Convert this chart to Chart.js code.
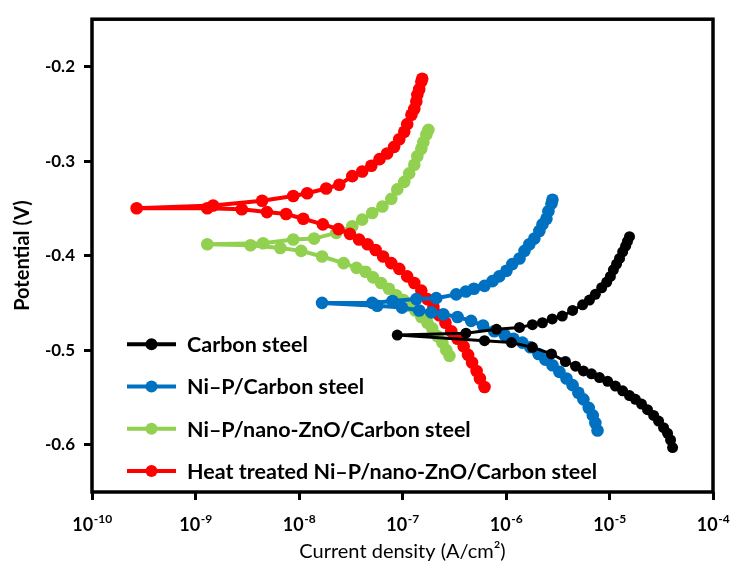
<!DOCTYPE html>
<html>
<head>
<meta charset="utf-8">
<script src="https://cdn.jsdelivr.net/npm/chart.js@4/dist/chart.umd.min.js"></script>
<style>
  html, body { margin: 0; padding: 0; background: #fff; }
  #wrap { width: 733px; height: 565px; }
</style>
</head>
<body>
<div id="wrap"><canvas id="tafel" width="733" height="565"></canvas></div>
<script>
// series names (legend order)
const seriesNames = [
  'Carbon steel',
  'Ni\u2013P/Carbon steel',
  'Ni\u2013P/nano-ZnO/Carbon steel',
  'Heat treated Ni\u2013P/nano-ZnO/Carbon steel'
];
const seriesColors = ['#000000', '#0070C0', '#92D050', '#FF0000'];

// current density (A/cm2) and potential (V), cathodic branch -> Ecorr -> anodic branch
const carbonI = [4.07e-5, 3.89e-5, 3.64e-5, 3.33e-5, 2.98e-5, 2.67e-5, 2.33e-5, 2.04e-5, 1.78e-5, 1.56e-5,
  1.34e-5, 1.14e-5, 9.6e-6, 8.0e-6, 6.7e-6, 5.6e-6, 4.7e-6, 3.75e-6, 2.75e-6, 1.8e-6, 1.13e-6, 6.2e-7,
  8.9e-8,
  4.1e-7, 8.1e-7, 1.35e-6, 1.8e-6, 2.25e-6, 2.8e-6, 3.5e-6, 4.4e-6, 5.5e-6, 6.4e-6, 7.3e-6, 8.4e-6,
  9.4e-6, 1.02e-5, 1.09e-5, 1.17e-5, 1.25e-5, 1.34e-5, 1.43e-5, 1.49e-5, 1.56e-5];
const carbonE = [-0.603, -0.595, -0.588, -0.582, -0.575, -0.569, -0.563, -0.557, -0.552, -0.548,
  -0.543, -0.538, -0.533, -0.529, -0.525, -0.522, -0.517, -0.512, -0.504, -0.497, -0.492, -0.490,
  -0.484,
  -0.482, -0.478, -0.476, -0.473, -0.471, -0.467, -0.464, -0.458, -0.452, -0.447, -0.441, -0.434,
  -0.428, -0.422, -0.415, -0.409, -0.403, -0.396, -0.390, -0.385, -0.380];

const nipI = [7.66e-6, 7.3e-6, 6.9e-6, 6.3e-6, 5.6e-6, 5.0e-6, 4.4e-6, 3.84e-6, 3.28e-6, 2.81e-6,
  2.4e-6, 2.06e-6, 1.72e-6, 1.44e-6, 1.18e-6, 9.7e-7, 7.7e-7, 6.0e-7, 4.6e-7, 3.4e-7, 2.48e-7,
  1.9e-7, 1.45e-7, 9.9e-8, 5.7e-8,
  1.67e-8,
  5.1e-8, 8.0e-8, 1.36e-7, 2.12e-7, 3.3e-7, 4.1e-7, 4.9e-7, 6.2e-7, 7.4e-7, 8.6e-7, 1.01e-6,
  1.15e-6, 1.35e-6, 1.51e-6, 1.68e-6, 1.88e-6, 2.1e-6, 2.25e-6, 2.46e-6, 2.57e-6, 2.75e-6, 2.81e-6];
const nipE = [-0.585, -0.577, -0.569, -0.561, -0.552, -0.545, -0.537, -0.530, -0.523, -0.516,
  -0.510, -0.504, -0.497, -0.492, -0.488, -0.484, -0.480, -0.474, -0.469, -0.465, -0.462,
  -0.460, -0.458, -0.455, -0.453,
  -0.450,
  -0.450, -0.448, -0.446, -0.445, -0.441, -0.438, -0.435, -0.432, -0.427, -0.422, -0.416,
  -0.409, -0.403, -0.395, -0.388, -0.382, -0.374, -0.367, -0.361, -0.353, -0.345, -0.341];

const znoI = [2.84e-7, 2.65e-7, 2.43e-7, 2.17e-7, 1.94e-7, 1.74e-7, 1.52e-7, 1.33e-7, 1.16e-7, 1.02e-7,
  8.7e-8, 7.4e-8, 6.2e-8, 5.2e-8, 4.4e-8, 3.6e-8, 2.7e-8, 1.67e-8, 1.05e-8, 6.6e-9, 3.4e-9,
  1.3e-9,
  4.5e-9, 8.8e-9, 1.4e-8, 2.29e-8, 3.27e-8, 4.08e-8, 5.1e-8, 6.4e-8, 7.8e-8, 8.9e-8, 1.04e-7,
  1.16e-7, 1.3e-7, 1.39e-7, 1.52e-7, 1.59e-7, 1.7e-7, 1.78e-7];
const znoE = [-0.506, -0.500, -0.492, -0.485, -0.477, -0.471, -0.465, -0.458, -0.453, -0.447,
  -0.442, -0.435, -0.429, -0.423, -0.417, -0.413, -0.408, -0.401, -0.395, -0.392, -0.389,
  -0.388,
  -0.387, -0.383, -0.382, -0.376, -0.369, -0.362, -0.355, -0.348, -0.340, -0.330, -0.322,
  -0.313, -0.304, -0.295, -0.287, -0.280, -0.272, -0.267];

const heatI = [6.2e-7, 5.6e-7, 5.2e-7, 4.7e-7, 4.3e-7, 3.9e-7, 3.4e-7, 2.96e-7, 2.6e-7, 2.27e-7,
  1.99e-7, 1.74e-7, 1.52e-7, 1.3e-7, 1.11e-7, 9.3e-8, 7.8e-8, 6.5e-8, 5.5e-8, 4.6e-8, 3.8e-8,
  3.1e-8, 2.4e-8, 1.7e-8, 1.1e-8, 7.5e-9, 4.9e-9, 2.8e-9, 1.3e-9,
  2.7e-10,
  1.48e-9, 4.4e-9, 8.8e-9, 1.2e-8, 1.83e-8, 2.45e-8, 3.27e-8, 4.08e-8, 5.0e-8, 6.0e-8, 7.1e-8,
  8.3e-8, 9.3e-8, 1.04e-7, 1.11e-7, 1.22e-7, 1.3e-7, 1.36e-7, 1.39e-7, 1.45e-7, 1.52e-7, 1.55e-7];
const heatE = [-0.539, -0.530, -0.522, -0.513, -0.505, -0.496, -0.488, -0.480, -0.471, -0.463,
  -0.454, -0.446, -0.437, -0.429, -0.422, -0.414, -0.408, -0.401, -0.394, -0.388, -0.383,
  -0.377, -0.372, -0.367, -0.361, -0.356, -0.354, -0.351, -0.350,
  -0.350,
  -0.347, -0.342, -0.337, -0.334, -0.329, -0.325, -0.316, -0.311, -0.305, -0.298, -0.292,
  -0.285, -0.277, -0.269, -0.261, -0.251, -0.245, -0.237, -0.230, -0.224, -0.216, -0.213];

// axis ticks
const xTickExps = [-10, -9, -8, -7, -6, -5, -4];
const yTicks = [-0.2, -0.3, -0.4, -0.5, -0.6];

const FONT = 'Lato, "Open Sans", sans-serif';

function toPoints(xs, ys) {
  return xs.map((x, i) => ({ x: x, y: ys[i] }));
}

const currents = [carbonI, nipI, znoI, heatI];
const potentials = [carbonE, nipE, znoE, heatE];
const drawOrder = [0, 1, 3, 2]; // black on top, green at the back

const datasets = seriesNames.map((name, i) => ({
  label: name,
  data: toPoints(currents[i], potentials[i]),
  showLine: true,
  borderColor: seriesColors[i],
  backgroundColor: seriesColors[i],
  borderWidth: i === 0 ? 3 : 4,
  pointRadius: i === 0 ? 5.5 : 6.3,
  pointBorderWidth: 0,
  tension: 0,
  order: drawOrder[i],
}));

// frame, x tick labels (10 with raised exponent) and the in-plot legend
const decorPlugin = {
  id: 'decor',
  afterDraw(chart) {
    const { ctx, chartArea: a } = chart;
    ctx.save();
    ctx.strokeStyle = '#000';
    ctx.lineWidth = 3.5;
    ctx.strokeRect(a.left, a.top, a.right - a.left, a.bottom - a.top);

    // x tick labels
    const xs = chart.scales.x;
    ctx.fillStyle = '#000';
    ctx.textBaseline = 'alphabetic';
    xTickExps.forEach((e) => {
      const px = xs.getPixelForValue(Math.pow(10, e));
      const base = '10';
      const exp = String(e);
      ctx.font = 'bold 18px ' + FONT;
      const wb = ctx.measureText(base).width;
      ctx.font = 'bold 12px ' + FONT;
      const we = ctx.measureText(exp).width;
      const x0 = px - (wb + we) / 2;
      ctx.textAlign = 'left';
      ctx.font = 'bold 18px ' + FONT;
      ctx.fillText(base, x0, a.bottom + 39);
      ctx.font = 'bold 12px ' + FONT;
      ctx.fillText(exp, x0 + wb + 0.5, a.bottom + 31);
    });

    // legend
    const lx = a.left + 35;
    let ly = a.top + 325;
    chart.data.datasets.forEach((ds) => {
      ctx.strokeStyle = ds.borderColor;
      ctx.fillStyle = ds.borderColor;
      ctx.lineWidth = 4;
      ctx.beginPath();
      ctx.moveTo(lx, ly);
      ctx.lineTo(lx + 49, ly);
      ctx.stroke();
      ctx.beginPath();
      ctx.arc(lx + 24.5, ly, 6, 0, Math.PI * 2);
      ctx.fill();
      ctx.fillStyle = '#000';
      ctx.font = 'bold 21.5px ' + FONT;
      ctx.textAlign = 'left';
      ctx.textBaseline = 'middle';
      ctx.fillText(ds.label, lx + 60, ly + 1);
      ly += 42.3;
    });
    ctx.restore();
  }
};

new Chart(document.getElementById('tafel'), {
  type: 'scatter',
  data: { datasets: datasets },
  options: {
    responsive: false,
    animation: false,
    layout: { padding: { top: 18, right: 20, left: 0, bottom: 0 } },
    plugins: {
      legend: { display: false },
      tooltip: { enabled: false },
    },
    scales: {
      x: {
        type: 'logarithmic',
        min: 1e-10,
        max: 1e-4,
        border: { display: false },
        grid: { drawOnChartArea: false, drawTicks: true, tickLength: 8, color: '#000', lineWidth: 3 },
        ticks: { display: false },
        afterBuildTicks: (s) => { s.ticks = xTickExps.map((e) => ({ value: Math.pow(10, e) })); },
        afterFit: (s) => { s.height = 73; },
        title: {
          display: true,
          text: 'Current density (A/cm\u00B2)',
          color: '#000',
          font: { family: FONT, size: 20, weight: 'normal' },
          padding: { top: 0, bottom: 1 },
        },
      },
      y: {
        min: -0.65,
        max: -0.15,
        border: { display: false },
        grid: { drawOnChartArea: false, drawTicks: true, tickLength: 8, color: '#000', lineWidth: 3 },
        ticks: {
          color: '#000',
          padding: 9,
          font: { family: FONT, size: 17, weight: 'bold' },
          callback: (v) => Number(v).toFixed(1),
        },
        afterBuildTicks: (s) => { s.ticks = yTicks.map((v) => ({ value: v })); },
        afterFit: (s) => { s.width = 92; },
        title: {
          display: true,
          text: 'Potential (V)',
          color: '#000',
          font: { family: FONT, size: 20, weight: 'bold' },
          padding: { top: 11, bottom: 0 },
        },
      },
    },
  },
  plugins: [decorPlugin],
});
</script>
</body>
</html>
